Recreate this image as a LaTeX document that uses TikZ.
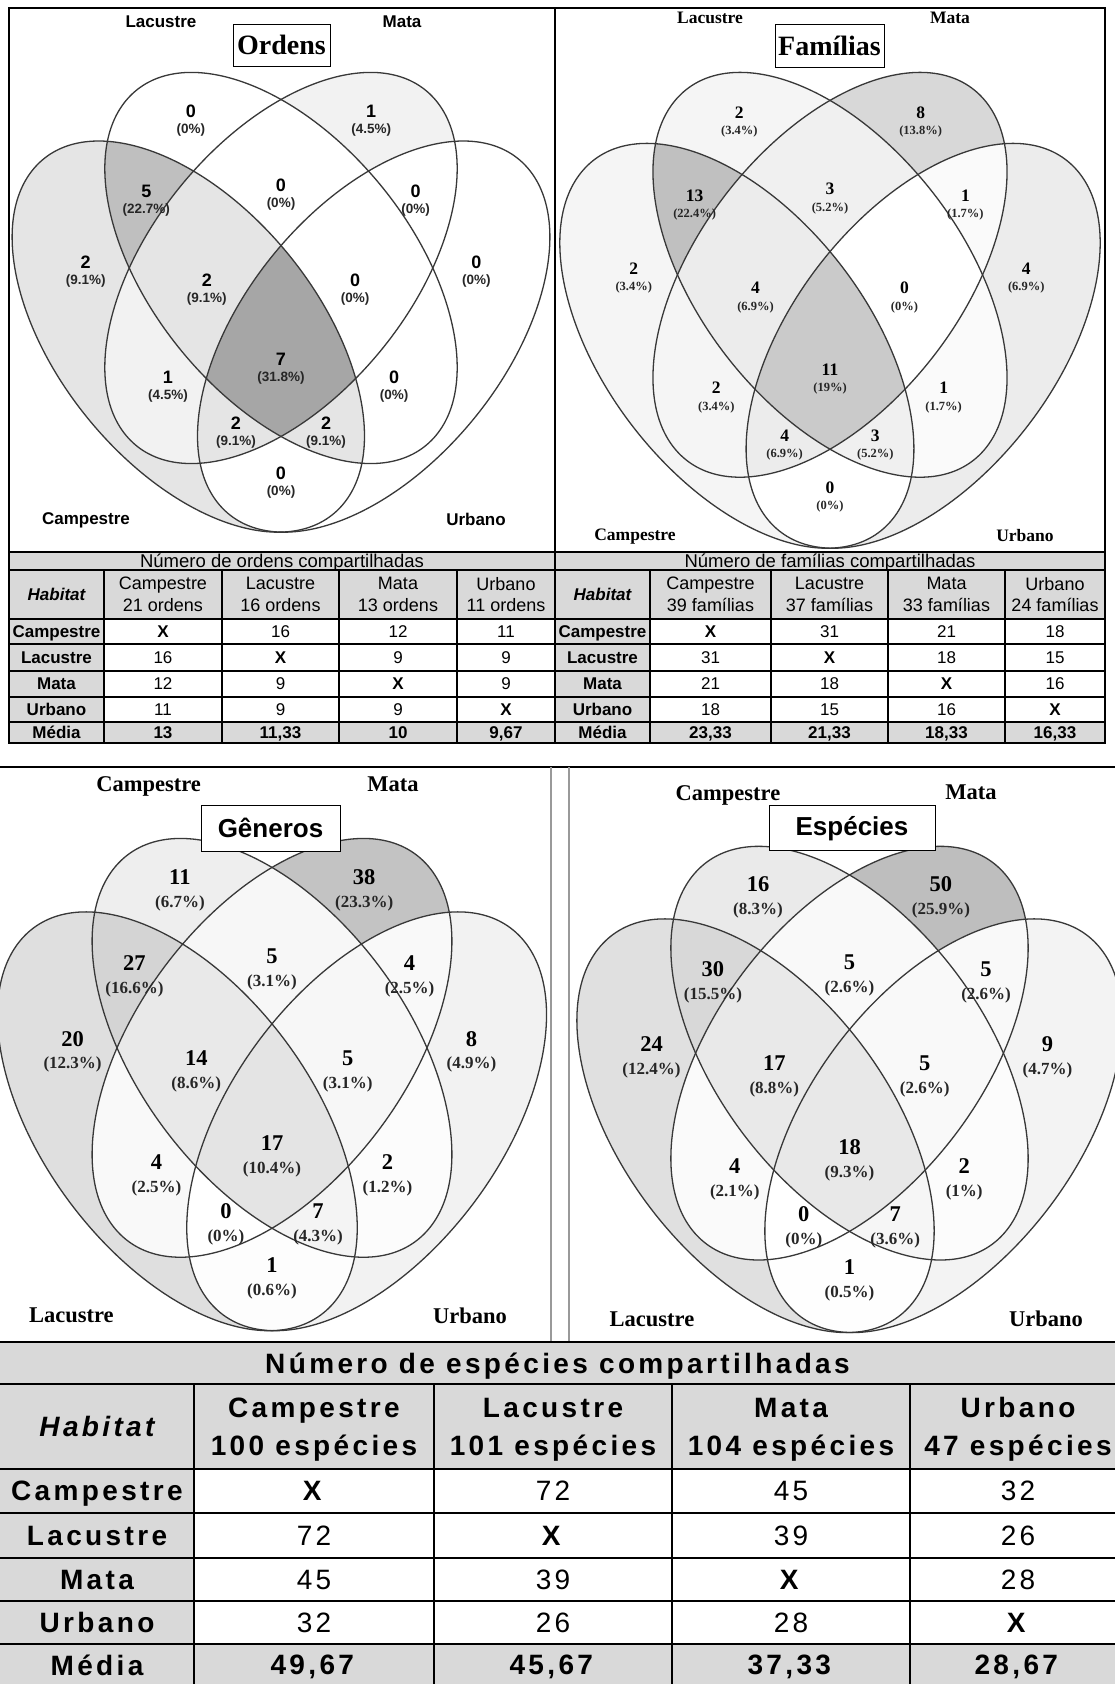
\documentclass[tikz,border=0pt]{standalone}
\usepackage{fontspec}
\setmainfont{Liberation Serif}
\setsansfont{Liberation Sans}
\newfontfamily\widesf[LetterSpace=12]{Liberation Sans}
\definecolor{cellgray}{HTML}{D9D9D9}

% clip to one ellipse of the four-set diagram when its flag is 1
\newcommand\vclip[4]{%
  \ifnum#1=1
    \clip[rotate around={#4:(#2,#3)}] (#2,#3) ellipse [x radius=0.35, y radius=0.2];
  \fi}
% regions are listed from one set up to four, so later fills cover earlier ones
\newcommand\vregion[5]{%
  \begin{scope}
    \vclip{#2}{0.35}{0.47}{45}
    \vclip{#3}{0.5}{0.57}{45}
    \vclip{#4}{0.5}{0.57}{135}
    \vclip{#5}{0.65}{0.47}{135}
    \fill[black!#1] (-0.5,-0.5) rectangle (1.5,1.5);
  \end{scope}}
\newcommand\vellipses{%
  \foreach \cx/\cy/\ang in {0.35/0.47/45, 0.5/0.57/45, 0.5/0.57/135, 0.65/0.47/135}
    \draw[vline, rotate around={\ang:(\cx,\cy)}] (\cx,\cy) ellipse [x radius=0.35, y radius=0.2];}

% x/y/count/percent/flags of the 15 regions
\newcommand\ordparts{%
0.354/0.786/0/0/0/1/0/0, 0.646/0.786/1/4.5/0/0/1/0, 0.184/0.566/2/9.1/1/0/0/0, 0.816/0.566/0/0/0/0/0/1,
0.282/0.669/5/22.7/1/1/0/0, 0.5/0.678/0/0/0/1/1/0, 0.718/0.669/0/0/0/0/1/1,
0.317/0.398/1/4.5/1/0/1/0, 0.683/0.398/0/0/0/1/0/1, 0.5/0.258/0/0/1/0/0/1,
0.38/0.539/2/9.1/1/1/1/0, 0.62/0.539/0/0/0/1/1/1, 0.427/0.331/2/9.1/1/0/1/1, 0.573/0.331/2/9.1/1/1/0/1,
0.5/0.424/7/31.8/1/1/1/1}
\newcommand\famparts{%
0.354/0.786/2/3.4/0/1/0/0, 0.646/0.786/8/13.8/0/0/1/0, 0.184/0.566/2/3.4/1/0/0/0, 0.816/0.566/4/6.9/0/0/0/1,
0.282/0.669/13/22.4/1/1/0/0, 0.5/0.678/3/5.2/0/1/1/0, 0.718/0.669/1/1.7/0/0/1/1,
0.317/0.398/2/3.4/1/0/1/0, 0.683/0.398/1/1.7/0/1/0/1, 0.5/0.258/0/0/1/0/0/1,
0.38/0.539/4/6.9/1/1/1/0, 0.62/0.539/0/0/0/1/1/1, 0.427/0.331/4/6.9/1/0/1/1, 0.573/0.331/3/5.2/1/1/0/1,
0.5/0.424/11/19/1/1/1/1}
\newcommand\genparts{%
0.354/0.786/11/6.7/0/1/0/0, 0.646/0.786/38/23.3/0/0/1/0, 0.184/0.566/20/12.3/1/0/0/0, 0.816/0.566/8/4.9/0/0/0/1,
0.282/0.669/27/16.6/1/1/0/0, 0.5/0.678/5/3.1/0/1/1/0, 0.718/0.669/4/2.5/0/0/1/1,
0.317/0.398/4/2.5/1/0/1/0, 0.683/0.398/2/1.2/0/1/0/1, 0.5/0.258/1/0.6/1/0/0/1,
0.38/0.539/14/8.6/1/1/1/0, 0.62/0.539/5/3.1/0/1/1/1, 0.427/0.331/0/0/1/0/1/1, 0.573/0.331/7/4.3/1/1/0/1,
0.5/0.424/17/10.4/1/1/1/1}
\newcommand\espparts{%
0.354/0.786/16/8.3/0/1/0/0, 0.646/0.786/50/25.9/0/0/1/0, 0.184/0.566/24/12.4/1/0/0/0, 0.816/0.566/9/4.7/0/0/0/1,
0.282/0.669/30/15.5/1/1/0/0, 0.5/0.678/5/2.6/0/1/1/0, 0.718/0.669/5/2.6/0/0/1/1,
0.317/0.398/4/2.1/1/0/1/0, 0.683/0.398/2/1/0/1/0/1, 0.5/0.258/1/0.5/1/0/0/1,
0.38/0.539/17/8.8/1/1/1/0, 0.62/0.539/5/2.6/0/1/1/1, 0.427/0.331/0/0/1/0/1/1, 0.573/0.331/7/3.6/1/1/0/1,
0.5/0.424/18/9.3/1/1/1/1}

\begin{document}
\begin{tikzpicture}[x=1pt, y=-1pt,
  vline/.style={draw=black!78, line width=1.3pt},
  frame/.style={line width=1.5pt},
  tline/.style={line width=1.4pt},
  bline/.style={line width=2.6pt},
  dline/.style={draw=black!40, line width=1.8pt},
  titlebox/.style={draw, fill=white, line width=1pt, inner sep=0},
  txt/.style={inner sep=0, text depth=0pt},
  ordnum/.style={txt, font=\fontsize{18}{18}\selectfont\sffamily\bfseries},
  ordpct/.style={txt, text=black!85, font=\fontsize{13.5}{13.5}\selectfont\sffamily\bfseries},
  ordlab/.style={txt, font=\fontsize{17}{17}\selectfont\sffamily\bfseries},
  famnum/.style={txt, font=\fontsize{17.5}{17.5}\selectfont\bfseries},
  fampct/.style={txt, text=black!85, font=\fontsize{12.5}{12.5}\selectfont\bfseries},
  famlab/.style={txt, font=\fontsize{17.5}{17.5}\selectfont\bfseries},
  gennum/.style={txt, font=\fontsize{22.5}{22.5}\selectfont\bfseries},
  genpct/.style={txt, text=black!85, font=\fontsize{17}{17}\selectfont\bfseries},
  genlab/.style={txt, font=\fontsize{22.5}{22.5}\selectfont\bfseries},
  ttitle/.style={txt, font=\fontsize{18.5}{18.5}\selectfont\sffamily},
  thab/.style={txt, font=\fontsize{17}{17}\selectfont\sffamily\bfseries\itshape},
  thead/.style={txt, align=center, font=\fontsize{18}{21.7}\selectfont\sffamily},
  trow/.style={txt, font=\fontsize{17}{17}\selectfont\sffamily\bfseries},
  tval/.style={txt, font=\fontsize{17}{17}\selectfont\sffamily},
  btitle/.style={txt, font=\fontsize{28}{28}\selectfont\widesf\bfseries},
  bhab/.style={txt, font=\fontsize{28}{28}\selectfont\widesf\bfseries\itshape},
  bhead/.style={txt, align=center, font=\fontsize{28}{38}\selectfont\widesf\bfseries},
  brow/.style={txt, font=\fontsize{28}{28}\selectfont\widesf\bfseries},
  bval/.style={txt, font=\fontsize{28}{28}\selectfont\widesf}]
\useasboundingbox (0,0) rectangle (1115,1684);
\fill[white] (0,0) rectangle (1115,1684);

% Ordens
\begin{scope}[shift={(-28,659)}, xscale=618, yscale=-686]
  \foreach \x/\y/\cnt/\pc/\fa/\fb/\fc/\fd in \ordparts {
    \pgfmathsetmacro\shade{5*\cnt}
    \vregion{\shade}{\fa}{\fb}{\fc}{\fd}
  }
  \vellipses
  \foreach \x/\y/\cnt/\pc/\fa/\fb/\fc/\fd [count=\i] in \ordparts {
    \node[ordnum] (ordn\i) at (\x,\y+0.0128) {\cnt};
    \node[ordpct] (ordp\i) at (\x,\y-0.0128) {(\pc\%)};
  }
\end{scope}
\node[ordlab] (ordlac) at (161,22) {Lacustre};
\node[ordlab] (ordmat) at (402,22) {Mata};
\node[ordlab] (ordcam) at (86,519) {Campestre};
\node[ordlab] (ordurb) at (476,519) {Urbano};
\node[titlebox, minimum width=97, minimum height=42,
  font=\fontsize{28}{28}\selectfont\bfseries] (ordtitle) at (281.5,45) {Ordens};

% Famílias
\begin{scope}[shift={(519.5,679.5)}, xscale=621, yscale=-710]
  \foreach \x/\y/\cnt/\pc/\fa/\fb/\fc/\fd in \famparts {
    \pgfmathsetmacro\shade{1.9*\cnt}
    \vregion{\shade}{\fa}{\fb}{\fc}{\fd}
  }
  \vellipses
  \foreach \x/\y/\cnt/\pc/\fa/\fb/\fc/\fd [count=\i] in \famparts {
    \node[famnum] (famn\i) at (\x,\y+0.0126) {\cnt};
    \node[fampct] (famp\i) at (\x,\y-0.0126) {(\pc\%)};
  }
\end{scope}
\node[famlab] (famlac) at (710,18) {Lacustre};
\node[famlab] (fammat) at (950,18) {Mata};
\node[famlab] (famcam) at (635,535) {Campestre};
\node[famlab] (famurb) at (1025,535) {Urbano};
\node[titlebox, minimum width=109, minimum height=43,
  font=\fontsize{28}{28}\selectfont\bfseries] (famtitle) at (829.5,45.5) {Famílias};

% top tables
\fill[cellgray] (9,552) rectangle (1105,619);
\fill[cellgray] (9,722) rectangle (1105,743);
\fill[cellgray] (9,619) rectangle (104,722);
\fill[cellgray] (555,619) rectangle (650,722);
\foreach \y in {552,570,619,644,671,697,722,743}
  \draw[tline] (9,\y) -- (1105,\y);
\foreach \x in {104,222,339,457,650,771,888,1005}
  \draw[tline] (\x,570) -- (\x,743);
\draw[frame] (9,8) rectangle (1105,743);
\draw[frame] (555,8) -- (555,743);

\node[ttitle] (ordtab) at (282,561) {Número de ordens compartilhadas};
\node[ttitle] (famtab) at (830,561) {Número de famílias compartilhadas};
\node[thab] (ordhab) at (56.5,594.5) {Habitat};
\node[thab] (famhab) at (602.5,594.5) {Habitat};
\foreach \xa/\xb/\hab/\na/\nb [count=\i] in
  {163/710.5/Campestre/21/39, 280.5/829.5/Lacustre/16/37,
   398/946.5/Mata/13/33, 506/1055/Urbano/11/24} {
  \node[thead] (ordh\i) at (\xa,594.5) {\hab\\\na{} ordens};
  \node[thead] (famh\i) at (\xb,594.5) {\hab\\\nb{} famílias};
}
\foreach \y/\r/\oa/\ob/\oc/\od/\ma/\mb/\mc/\md [count=\i] in
  {631.5/Campestre/\textbf{X}/16/12/11/\textbf{X}/31/21/18,
   657.5/Lacustre/16/\textbf{X}/9/9/31/\textbf{X}/18/15,
   684/Mata/12/9/\textbf{X}/9/21/18/\textbf{X}/16,
   709.5/Urbano/11/9/9/\textbf{X}/18/15/16/\textbf{X},
   732.5/Média/\textbf{13}/\textbf{11,33}/\textbf{10}/\textbf{9,67}/\textbf{23,33}/\textbf{21,33}/\textbf{18,33}/\textbf{16,33}} {
  \node[trow] (ordr\i) at (56.5,\y) {\r};
  \node[tval] (ord\i-1) at (163,\y) {\oa};
  \node[tval] (ord\i-2) at (280.5,\y) {\ob};
  \node[tval] (ord\i-3) at (398,\y) {\oc};
  \node[tval] (ord\i-4) at (506,\y) {\od};
  \node[trow] (famr\i) at (602.5,\y) {\r};
  \node[tval] (fam\i-1) at (710.5,\y) {\ma};
  \node[tval] (fam\i-2) at (829.5,\y) {\mb};
  \node[tval] (fam\i-3) at (946.5,\y) {\mc};
  \node[tval] (fam\i-4) at (1055,\y) {\md};
}

% lower half
\draw[line width=2pt] (0,767) -- (1115,767);
\draw[dline] (551,767) -- (551,1342);
\draw[dline] (569,767) -- (569,1342);

% Gêneros
\begin{scope}[shift={(-43.5,1466.5)}, xscale=631, yscale=-734.5]
  \foreach \x/\y/\cnt/\pc/\fa/\fb/\fc/\fd in \genparts {
    \pgfmathsetmacro\shade{0.62*\cnt}
    \vregion{\shade}{\fa}{\fb}{\fc}{\fd}
  }
  \vellipses
  \foreach \x/\y/\cnt/\pc/\fa/\fb/\fc/\fd [count=\i] in \genparts {
    \node[gennum] (genn\i) at (\x,\y+0.0167) {\cnt};
    \node[genpct] (genp\i) at (\x,\y-0.0167) {(\pc\%)};
  }
\end{scope}
\node[genlab] (gencam) at (148.6,784.3) {Campestre};
\node[genlab] (genmat) at (393,784.3) {Mata};
\node[genlab] (genlac) at (71.4,1315.6) {Lacustre};
\node[genlab] (genurb) at (470,1315.6) {Urbano};
\node[titlebox, minimum width=139, minimum height=46,
  font=\fontsize{26}{26}\selectfont\sffamily\bfseries] (gentitle) at (270.5,828) {Gêneros};

% Espécies
\begin{scope}[shift={(536.2,1466.7)}, xscale=626.6, yscale=-725.5]
  \foreach \x/\y/\cnt/\pc/\fa/\fb/\fc/\fd in \espparts {
    \pgfmathsetmacro\shade{0.51*\cnt}
    \vregion{\shade}{\fa}{\fb}{\fc}{\fd}
  }
  \vellipses
  \foreach \x/\y/\cnt/\pc/\fa/\fb/\fc/\fd [count=\i] in \espparts {
    \node[gennum] (espn\i) at (\x,\y+0.0169) {\cnt};
    \node[genpct] (espp\i) at (\x,\y-0.0169) {(\pc\%)};
  }
\end{scope}
\node[genlab] (espcam) at (728,792.6) {Campestre};
\node[genlab] (espmat) at (971,792.6) {Mata};
\node[genlab] (esplac) at (652,1319) {Lacustre};
\node[genlab] (espurb) at (1046,1319) {Urbano};
\node[titlebox, minimum width=166, minimum height=45,
  font=\fontsize{26}{26}\selectfont\sffamily\bfseries] (esptitle) at (852,828.4) {Espécies};

% species table
\fill[cellgray] (0,1342) rectangle (1115,1469);
\fill[cellgray] (0,1469) rectangle (194,1644);
\fill[cellgray] (0,1644) rectangle (1115,1684);
\foreach \y in {1342,1384,1469,1513,1558,1601,1644}
  \draw[bline] (0,\y) -- (1115,\y);
\foreach \x in {194,434,672,910}
  \draw[bline] (\x,1384) -- (\x,1684);
\node[btitle] (esptab) at (557.5,1363) {Número de espécies compartilhadas};
\node[bhab] (esphab) at (97,1426.5) {Habitat};
\foreach \x/\hab/\n [count=\i] in
  {314/Campestre/100, 553/Lacustre/101, 791/Mata/104, 1018/Urbano/47}
  \node[bhead] (esph\i) at (\x,1426.5) {\hab\\\n{} espécies};
\foreach \y/\r/\va/\vb/\vc/\vd [count=\i] in
  {1491/Campestre/\textbf{X}/72/45/32,
   1535.5/Lacustre/72/\textbf{X}/39/26,
   1579.5/Mata/45/39/\textbf{X}/28,
   1622.5/Urbano/32/26/28/\textbf{X},
   1665/Média/\textbf{49,67}/\textbf{45,67}/\textbf{37,33}/\textbf{28,67}} {
  \node[brow] (espr\i) at (97,\y) {\r};
  \node[bval] (esp\i-1) at (314,\y) {\va};
  \node[bval] (esp\i-2) at (553,\y) {\vb};
  \node[bval] (esp\i-3) at (791,\y) {\vc};
  \node[bval] (esp\i-4) at (1018,\y) {\vd};
}
\end{tikzpicture}
\end{document}
